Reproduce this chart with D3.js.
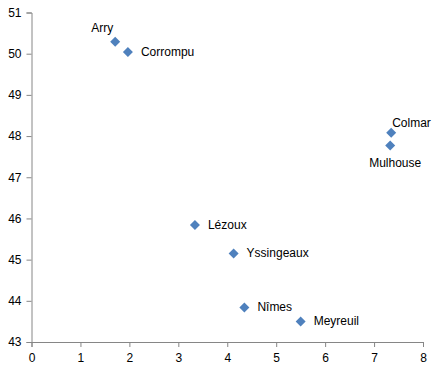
<!DOCTYPE html>
<html>
<head>
<meta charset="utf-8">
<script src="https://cdn.jsdelivr.net/npm/d3@7"></script>
<style>
  body { margin: 0; background: #fff; }
  text { font-family: "Liberation Sans", Arial, sans-serif; }
</style>
</head>
<body>
<div id="chart"></div>
<script>
// data
var towns = ["Arry", "Corrompu", "Colmar", "Mulhouse", "Lézoux", "Yssingeaux", "Nîmes", "Meyreuil"];
var xValues = [1.71, 1.97, 7.35, 7.33, 3.34, 4.13, 4.35, 5.50];
var yValues = [50.29, 50.04, 48.08, 47.77, 45.84, 45.15, 43.84, 43.50];
var xTicks = [0, 1, 2, 3, 4, 5, 6, 7, 8];
var yTicks = [43, 44, 45, 46, 47, 48, 49, 50, 51];
// where each label sits relative to its marker
var labelSide = ["above-left", "right", "above", "below", "right", "right", "right", "right"];

var width = 438, height = 370;
var margin = { top: 12.5, right: 15, bottom: 28, left: 31.5 };

var svg = d3.select("#chart")
    .append("svg")
    .attr("width", width)
    .attr("height", height);

var x = d3.scaleLinear()
    .domain([0, 8])
    .range([margin.left, width - margin.right]);

var y = d3.scaleLinear()
    .domain([43, 51])
    .range([height - margin.bottom, margin.top]);

var axisColor = "#868686";

// X axis
var gx = svg.append("g")
    .attr("transform", "translate(0," + y(43) + ")")
    .call(d3.axisBottom(x).tickValues(xTicks).tickSize(5).tickPadding(6).tickFormat(d3.format("d")));
gx.select(".domain").attr("stroke", axisColor);
gx.selectAll(".tick line").attr("stroke", axisColor);
gx.selectAll(".tick text").attr("fill", "#000").style("font-size", "12px");

// Y axis
var gy = svg.append("g")
    .attr("transform", "translate(" + x(0) + ",0)")
    .call(d3.axisLeft(y).tickValues(yTicks).tickSize(5).tickPadding(5).tickFormat(d3.format("d")));
gy.select(".domain").attr("stroke", axisColor);
gy.selectAll(".tick line").attr("stroke", axisColor);
gy.selectAll(".tick text").attr("fill", "#000").style("font-size", "12px");

var points = towns.map(function (t, i) {
    return { name: t, x: xValues[i], y: yValues[i], side: labelSide[i] };
});

// diamonds
var diamond = d3.symbol().type(d3.symbolSquare).size(50);
svg.selectAll("myDots")
    .data(points)
    .enter()
    .append("path")
    .attr("d", diamond)
    .attr("transform", function (d) { return "translate(" + x(d.x) + "," + y(d.y) + ") rotate(45)"; })
    .attr("fill", "#4F81BD");

// labels
var offsets = {
    "right":      { dx: 13, dy: 4, anchor: "start" },
    "above-left": { dx: -2, dy: -10, anchor: "end" },
    "above":      { dx: 1, dy: -6, anchor: "start" },
    "below":      { dx: 5, dy: 21, anchor: "middle" }
};
svg.selectAll("myLabels")
    .data(points)
    .enter()
    .append("text")
    .attr("x", function (d) { return x(d.x) + offsets[d.side].dx; })
    .attr("y", function (d) { return y(d.y) + offsets[d.side].dy; })
    .attr("text-anchor", function (d) { return offsets[d.side].anchor; })
    .style("font-size", "12px")
    .attr("fill", "#000")
    .text(function (d) { return d.name; });
</script>
</body>
</html>
